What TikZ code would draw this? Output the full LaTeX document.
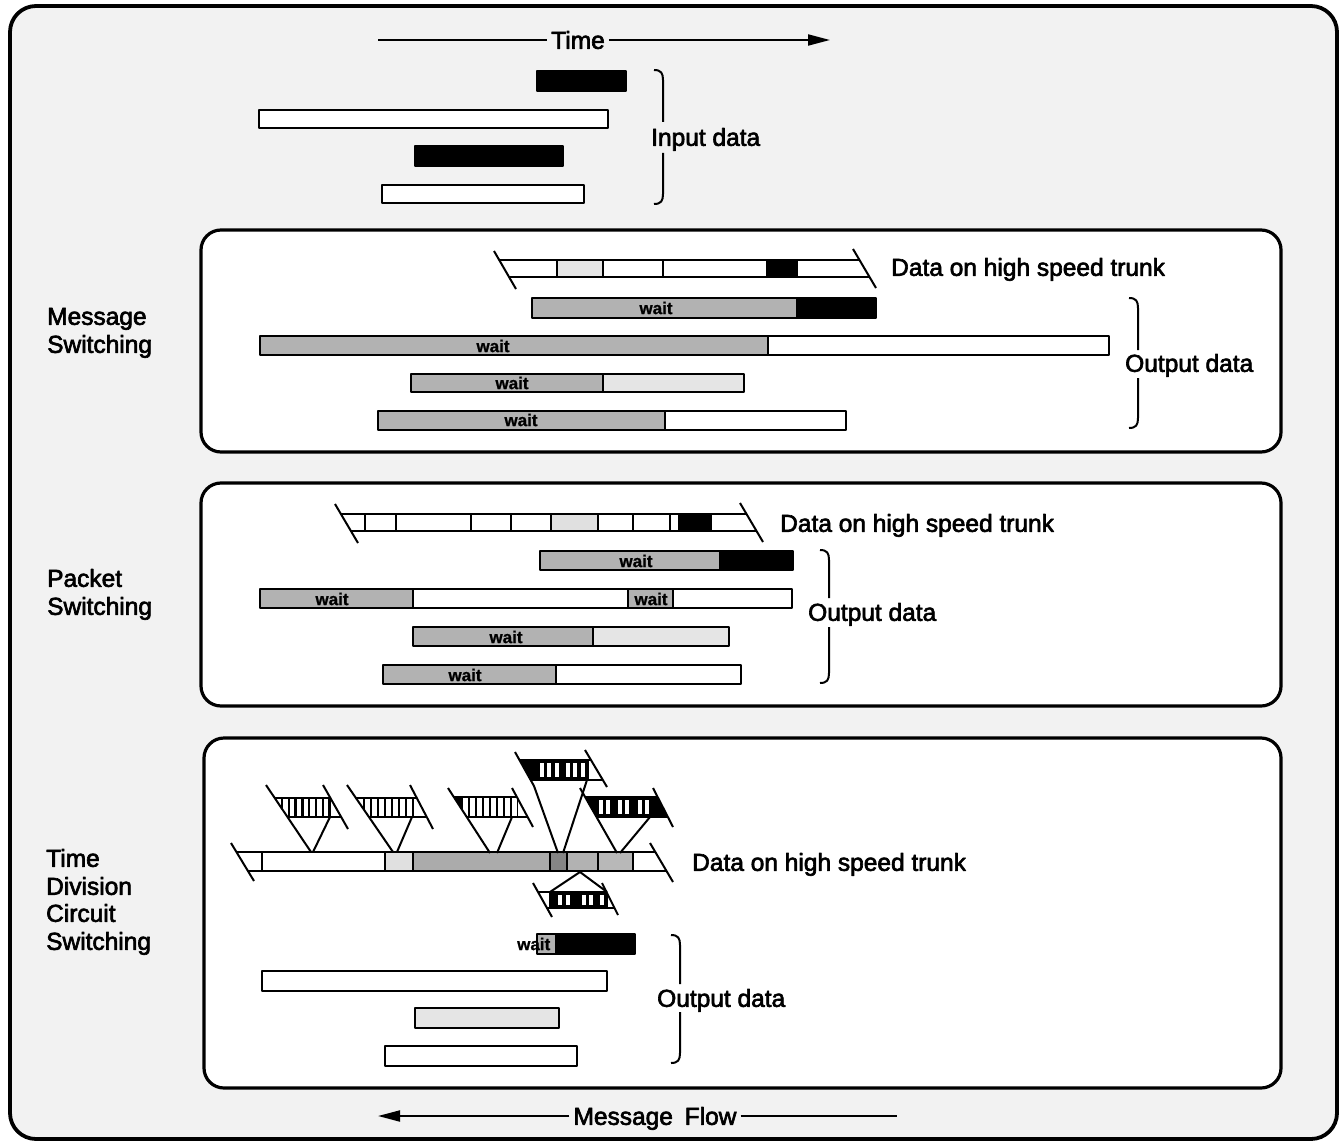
\documentclass[tikz,border=0pt]{standalone}
\usepackage{fontspec}
\setmainfont{Liberation Sans}
\newfontfamily\lblfont{Liberation Sans}[FakeBold=2.6]
\newfontfamily\waitfont{Liberation Sans Bold}[FakeBold=1]
\usetikzlibrary{arrows.meta}
% right brace: x, top, bottom, gap top, gap bottom
\newcommand\brc[5]{%
  \draw[ln] (#1-9,#2) .. controls (#1-2,#2) and (#1,#2+3) .. (#1,#2+10) -- (#1,#4);
  \draw[ln] (#1,#5) -- (#1,#3-10) .. controls (#1,#3-3) and (#1-2,#3) .. (#1-9,#3);}
\begin{document}
\begin{tikzpicture}[x=1pt,y=-1pt,line join=round,
  frame/.style={draw,line width=3.8pt,rounded corners=26pt},
  panel/.style={draw,fill=white,line width=3.2pt,rounded corners=20pt},
  bar/.style={draw,line width=2pt},
  ln/.style={line width=2pt},
  thinln/.style={line width=1.7pt},
  slotbar/.style={line width=2.5pt},
  gry/.style={fill=black!30},
  spk/.style={fill=black!10},
  blk/.style={fill=black},
  wht/.style={fill=white},
  lbl/.style={font=\lblfont\fontsize{24.5}{29}\selectfont,inner sep=0pt,text height=17.6pt,text depth=0pt},
  wt/.style={font=\waitfont\fontsize{17}{18}\selectfont,inner sep=0pt},
  tip/.style={-{Triangle[length=22pt,width=11pt]}}]
\useasboundingbox (0,0) rectangle (1340,1142);
\draw[frame,fill=black!5] (10,6) rectangle (1337,1139);

% ---------- Time arrow ----------
\node[lbl,inner xsep=4pt] (time) at (578,40) {Time};
\coordinate (timeL) at (378,40);
\coordinate (timeR) at (830,40);
\draw[ln] (timeL) -- (time.west);
\draw[ln,tip] (time.east) -- (timeR);

% ---------- Input data ----------
\draw[bar,blk] (537,71) rectangle (626,91);
\draw[bar,wht] (259,110) rectangle (608,128);
\draw[bar,blk] (415,146) rectangle (563,166);
\draw[bar,wht] (382,185) rectangle (584,203);
\brc{663}{70}{204}{122}{153}
\node[lbl,anchor=west] (inp) at (651,137) {Input data};

% ---------- Message switching ----------
\draw[panel] (201,230) rectangle (1281,452);
\node[lbl,anchor=west] (ms1) at (47,316) {Message};
\node[lbl,anchor=west] (ms2) at (47,344) {Switching};
\draw[ln] (494,251) -- (516,289);
\draw[ln] (853,249) -- (876,288);
\fill[black] (767,260) rectangle (797,277);
\draw[thinln,spk] (557,260) rectangle (603,277);
\draw[ln] (499,260) -- (860,260);
\draw[ln] (509,277) -- (870,277);
\foreach \x in {663,767,797} \draw[thinln] (\x,260) -- (\x,277);
\node[lbl,anchor=west] (mtr) at (891,267) {Data on high speed trunk};
% output rows
\draw[bar,gry] (532,298) rectangle (797,318);
\draw[bar,blk] (797,298) rectangle (876,318);
\node[wt] (mw1) at (656,308) {wait};
\draw[bar,gry] (260,336) rectangle (768,355);
\draw[bar,wht] (768,336) rectangle (1109,355);
\node[wt] (mw2) at (493,346) {wait};
\draw[bar,gry] (411,374) rectangle (603,392);
\draw[bar,spk] (603,374) rectangle (744,392);
\node[wt] (mw3) at (512,383) {wait};
\draw[bar,gry] (378,411) rectangle (665,430);
\draw[bar,wht] (665,411) rectangle (846,430);
\node[wt] (mw4) at (521,420) {wait};
\brc{1138}{298}{428}{350}{378}
\node[lbl,anchor=west] (mout) at (1125,363) {Output data};

% ---------- Packet switching ----------
\draw[panel] (201,483) rectangle (1281,706);
\node[lbl,anchor=west] (ps1) at (47,578) {Packet};
\node[lbl,anchor=west] (ps2) at (47,606) {Switching};
\draw[ln] (335,504) -- (358,543);
\draw[ln] (740,503) -- (763,542);
\fill[black] (678,514) rectangle (712,531);
\fill[black!12] (551,514) rectangle (598,531);
\draw[ln] (341,514) -- (746,514);
\draw[ln] (351,531) -- (757,531);
\foreach \x in {365,396,471,511,551,598,633,670} \draw[thinln] (\x,514) -- (\x,531);
\node[lbl,anchor=west] (ptr) at (780,523) {Data on high speed trunk};
\draw[bar,gry] (540,551) rectangle (720,570);
\draw[bar,blk] (720,551) rectangle (793,570);
\node[wt] (pw1) at (636,561) {wait};
\draw[bar,gry] (260,589) rectangle (413,608);
\draw[bar,wht] (413,589) rectangle (628,608);
\draw[bar,gry] (628,589) rectangle (673,608);
\draw[bar,wht] (673,589) rectangle (792,608);
\node[wt] (pw2) at (332,599) {wait};
\node[wt] (pw3) at (651,599) {wait};
\draw[bar,gry] (413,627) rectangle (593,646);
\draw[bar,spk] (593,627) rectangle (729,646);
\node[wt] (pw4) at (506,637) {wait};
\draw[bar,gry] (383,665) rectangle (556,684);
\draw[bar,wht] (556,665) rectangle (741,684);
\node[wt] (pw5) at (465,675) {wait};
\brc{829}{550}{683}{598}{627}
\node[lbl,anchor=west] (pout) at (808,612) {Output data};

% ---------- Time division circuit switching ----------
\draw[panel] (204,738) rectangle (1281,1088);
\node[lbl,anchor=west] (ts1) at (46,858) {Time};
\node[lbl,anchor=west] (ts2) at (46,886) {Division};
\node[lbl,anchor=west] (ts3) at (46,913) {Circuit};
\node[lbl,anchor=west] (ts4) at (46,941) {Switching};
% main trunk
\draw[ln] (231,843) -- (254,881);
\draw[ln] (650,843) -- (673,882);
\fill[black!12] (385,852) rectangle (413,871);
\fill[black!33] (413,852) rectangle (550,871);
\fill[black!48] (550,852) rectangle (567,871);
\fill[black!30] (567,852) rectangle (598,871);
\fill[black!28] (598,852) rectangle (633,871);
\draw[ln] (236,852) -- (655,852);
\draw[ln] (248,871) -- (667,871);
\foreach \x in {262,385,413,550,567,598,633} \draw[thinln] (\x,852) -- (\x,871);
\node[lbl,anchor=west] (ttr) at (692,862) {Data on high speed trunk};
% frame 1
\begin{scope}
  \clip (275,798) -- (331,798) -- (331,817) -- (287,817) -- cycle;
  \foreach \i in {0,...,7} \draw[slotbar] (282+6.8*\i,798) -- (282+6.8*\i,817);
\end{scope}
\draw[ln] (266,785) -- (311,852);
\draw[ln] (323,785) -- (348,829);
\draw[ln] (275,798) -- (330,798);
\draw[ln] (287,817) -- (341,817);
\draw[ln] (330,817) -- (313,852);
% frame 2
\begin{scope}
  \clip (356,798) -- (414,798) -- (414,817) -- (369,817) -- cycle;
  \foreach \i in {0,...,7} \draw[slotbar] (364+7*\i,798) -- (364+7*\i,817);
\end{scope}
\draw[ln] (347,785) -- (393,852);
\draw[ln] (410,785) -- (433,829);
\draw[ln] (356,798) -- (417,798);
\draw[ln] (369,817) -- (427,817);
\draw[ln] (412,817) -- (397,852);
% frame 3
\begin{scope}
  \clip (454,797) -- (518,797) -- (518,817) -- (467,817) -- cycle;
  \fill[black] (454,797) rectangle (462,817);
  \foreach \i in {0,...,8} \draw[slotbar] (462+7*\i,797) -- (462+7*\i,817);
\end{scope}
\draw[ln] (448,788) -- (490,853);
\draw[ln] (512,788) -- (533,827);
\draw[ln] (454,797) -- (517,797);
\draw[ln] (467,817) -- (528,817);
\draw[ln] (512,817) -- (497,853);
% frame 4 (top)
\begin{scope}
  \clip (519.5,760) -- (589,760) -- (589,780) -- (530.6,780) -- cycle;
  \fill[black] (515,760) rectangle (589,780);
  \foreach \a in {540,547,555,566,573,581} \fill[white] (\a,763) rectangle (\a+3.5,777);
\end{scope}
\draw[ln] (515,752) -- (534,786) -- (558,853);
\draw[ln] (585,750) -- (607,787);
\draw[ln] (519.5,760) -- (591,760);
\draw[ln] (530.6,780) -- (603,780);
\draw[ln] (587,780) -- (563,853);
% frame 5
\begin{scope}
  \clip (585,797) -- (657.6,797) -- (667.8,817) -- (596.5,817) -- cycle;
  \fill[black] (585,797) rectangle (670,817);
  \foreach \a in {599,606,618,625,638,645} \fill[white] (\a,800) rectangle (\a+3.5,814);
\end{scope}
\draw[ln] (580,788) -- (617,853);
\draw[ln] (653,788) -- (673,827);
\draw[ln] (585,797) -- (657.6,797);
\draw[ln] (596.5,817) -- (667.8,817);
\draw[ln] (650,817) -- (620,853);
% lower frame
\begin{scope}
  \clip (538,892) -- (606.5,892) -- (614.5,908) -- (547,908) -- cycle;
  \fill[black] (549,892) rectangle (608,908);
  \foreach \a in {558,566,582,589,600} \fill[white] (\a,895) rectangle (\a+3.5,905);
\end{scope}
\draw[ln] (533,883) -- (552,917);
\draw[ln] (602,883) -- (618,915);
\draw[ln] (538,892) -- (606.5,892);
\draw[ln] (547,908) -- (614.5,908);
\draw[ln] (550,892) -- (580,872) -- (607,892);
% output rows
\draw[bar,gry] (537,934) rectangle (556,954);
\draw[bar,blk] (556,934) rectangle (635,954);
\node[wt,anchor=west] (tw1) at (517,944) {wait};
\draw[bar,wht] (262,971) rectangle (607,991);
\draw[bar,spk] (415,1008) rectangle (559,1028);
\draw[bar,wht] (385,1046) rectangle (577,1066);
\brc{680}{935}{1063}{984}{1012}
\node[lbl,anchor=west] (tout) at (657,998) {Output data};

% ---------- Message flow ----------
\node[lbl,inner xsep=4pt] (mf) at (655,1116) {Message\hspace{5pt} Flow};
\coordinate (mfL) at (378,1116);
\coordinate (mfR) at (897,1116);
\draw[ln,tip] (mf.west) -- (mfL);
\draw[ln] (mf.east) -- (mfR);
\end{tikzpicture}
\end{document}
